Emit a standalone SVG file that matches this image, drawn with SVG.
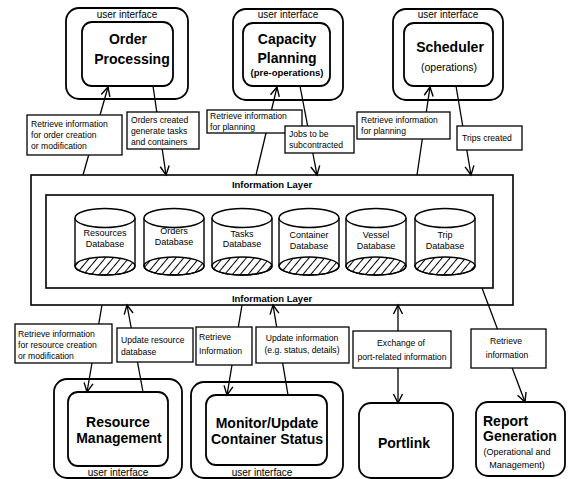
<svg xmlns="http://www.w3.org/2000/svg" width="569" height="479" viewBox="0 0 569 479">
<defs>
<style>
.ob{fill:#fff;stroke:#000;stroke-width:1.8}
.ib{fill:#fff;stroke:#000;stroke-width:1.8}
.lb{fill:#fff;stroke:#000;stroke-width:1.3}
.cn{stroke:#000;stroke-width:1.3;fill:none}
.t{font-family:"Liberation Sans",Arial,sans-serif;fill:#000}
.ti{font-size:14px;font-weight:bold;text-anchor:middle}
.ui{font-size:10px;text-anchor:middle}
.lt{font-size:8.6px}
.db{font-size:9px;text-anchor:middle}
.il{font-size:9.5px;font-weight:bold;text-anchor:middle}
.cy{fill:#fff;stroke:#000;stroke-width:1.4}
</style>
<pattern id="h" width="6" height="6" patternUnits="userSpaceOnUse" patternTransform="rotate(40)">
<line x1="0" y1="0" x2="0" y2="6" stroke="#000" stroke-width="2"/>
</pattern>
<marker id="a" viewBox="-10 -6 12 12" refX="0" refY="0" markerWidth="12" markerHeight="12" markerUnits="userSpaceOnUse" orient="auto-start-reverse">
<path d="M-9,-4.5 L0,0 L-9,4.5" fill="none" stroke="#000" stroke-width="1.4"/>
</marker>
</defs>
<rect width="569" height="479" fill="#fff"/>

<g id="order-processing">
<rect class="ob" x="66" y="8" width="122" height="91" rx="13"/>
<rect class="ib" x="82" y="22" width="91" height="64" rx="10"/>
<text class="t ui" x="127" y="18">user interface</text>
<text class="t ti" x="128" y="44">Order</text>
<text class="t ti" x="132" y="64">Processing</text>
</g>

<g id="capacity-planning">
<rect class="ob" x="233" y="9" width="110" height="91" rx="13"/>
<rect class="ib" x="243" y="23" width="87" height="63" rx="10"/>
<text class="t ui" x="288" y="18">user interface</text>
<text class="t ti" x="287" y="44">Capacity</text>
<text class="t ti" x="287" y="63">Planning</text>
<text class="t" x="287" y="76" style="font-size:9.5px;font-weight:bold;text-anchor:middle">(pre-operations)</text>
</g>

<g id="scheduler">
<rect class="ob" x="393" y="9" width="110" height="91" rx="13"/>
<rect class="ib" x="404" y="23" width="89" height="63" rx="10"/>
<text class="t ui" x="448" y="18">user interface</text>
<text class="t ti" x="450" y="52">Scheduler</text>
<text class="t" x="449" y="71" style="font-size:10.5px;text-anchor:middle">(operations)</text>
</g>

<g id="information-layer">
<rect x="31" y="175" width="482" height="130" fill="#fff" stroke="#000" stroke-width="1.6"/>
<rect x="46" y="195" width="447" height="93" fill="#fff" stroke="#000" stroke-width="1.6"/>
<text class="t il" x="272" y="188">Information Layer</text>
<text class="t il" x="272" y="302">Information Layer</text>
</g>

<g id="resources-db">
<path class="cy" d="M75,218 V266 A30,9 0 0 0 135,266 V218"/>
<ellipse cx="105" cy="266" rx="30" ry="9" fill="url(#h)" stroke="#000" stroke-width="1.4"/>
<ellipse class="cy" cx="105" cy="218" rx="30" ry="9.5"/>
<text class="t db" x="105" y="236">Resources</text>
<text class="t db" x="105" y="247">Database</text>
</g>
<g id="orders-db">
<path class="cy" d="M144,218 V266 A30,9 0 0 0 204,266 V218"/>
<ellipse cx="174" cy="266" rx="30" ry="9" fill="url(#h)" stroke="#000" stroke-width="1.4"/>
<ellipse class="cy" cx="174" cy="218" rx="30" ry="9.5"/>
<text class="t db" x="174" y="234">Orders</text>
<text class="t db" x="174" y="245">Database</text>
</g>
<g id="tasks-db">
<path class="cy" d="M212,218 V266 A30,9 0 0 0 272,266 V218"/>
<ellipse cx="242" cy="266" rx="30" ry="9" fill="url(#h)" stroke="#000" stroke-width="1.4"/>
<ellipse class="cy" cx="242" cy="218" rx="30" ry="9.5"/>
<text class="t db" x="242" y="237">Tasks</text>
<text class="t db" x="242" y="247">Database</text>
</g>
<g id="container-db">
<path class="cy" d="M279,218 V266 A30,9 0 0 0 339,266 V218"/>
<ellipse cx="309" cy="266" rx="30" ry="9" fill="url(#h)" stroke="#000" stroke-width="1.4"/>
<ellipse class="cy" cx="309" cy="218" rx="30" ry="9.5"/>
<text class="t db" x="309" y="238">Container</text>
<text class="t db" x="309" y="249">Database</text>
</g>
<g id="vessel-db">
<path class="cy" d="M346,218 V266 A30,9 0 0 0 406,266 V218"/>
<ellipse cx="376" cy="266" rx="30" ry="9" fill="url(#h)" stroke="#000" stroke-width="1.4"/>
<ellipse class="cy" cx="376" cy="218" rx="30" ry="9.5"/>
<text class="t db" x="376" y="238">Vessel</text>
<text class="t db" x="376" y="249">Database</text>
</g>
<g id="trip-db">
<path class="cy" d="M415,218 V266 A30,9 0 0 0 475,266 V218"/>
<ellipse cx="445" cy="266" rx="30" ry="9" fill="url(#h)" stroke="#000" stroke-width="1.4"/>
<ellipse class="cy" cx="445" cy="218" rx="30" ry="9.5"/>
<text class="t db" x="445" y="238">Trip</text>
<text class="t db" x="445" y="249">Database</text>
</g>

<g id="resource-management">
<rect class="ob" x="54" y="379" width="128" height="99" rx="13"/>
<rect class="ib" x="68" y="392" width="100" height="74" rx="10"/>
<text class="t ti" x="118" y="427">Resource</text>
<text class="t ti" x="119" y="443">Management</text>
<text class="t ui" x="118" y="476">user interface</text>
</g>

<g id="monitor-update">
<rect class="ob" x="191" y="382" width="152" height="96" rx="13"/>
<rect class="ib" x="206" y="395" width="121" height="70" rx="10"/>
<text class="t ti" x="267" y="428">Monitor/Update</text>
<text class="t ti" x="267" y="444">Container Status</text>
<text class="t ui" x="262" y="476">user interface</text>
</g>

<g id="portlink">
<rect class="ob" x="359" y="403" width="94" height="75" rx="12"/>
<text class="t ti" x="404" y="448">Portlink</text>
</g>

<g id="report-generation">
<rect class="ob" x="476" y="402" width="89" height="74" rx="12"/>
<text class="t" x="483" y="426" style="font-size:14px;font-weight:bold">Report</text>
<text class="t" x="483" y="441" style="font-size:14px;font-weight:bold">Generation</text>
<text class="t" x="517" y="455" style="font-size:9px;text-anchor:middle">(Operational and</text>
<text class="t" x="517" y="468" style="font-size:9px;text-anchor:middle">Management)</text>
</g>

<g id="connectors">
<line class="cn" x1="83" y1="175" x2="108" y2="87" marker-end="url(#a)"/>
<line class="cn" x1="153" y1="86" x2="166" y2="175" marker-end="url(#a)"/>
<line class="cn" x1="256" y1="175" x2="277" y2="87" marker-end="url(#a)"/>
<line class="cn" x1="300" y1="86" x2="317" y2="175" marker-end="url(#a)"/>
<line class="cn" x1="417" y1="175" x2="430" y2="87" marker-end="url(#a)"/>
<line class="cn" x1="456" y1="86" x2="471" y2="175" marker-end="url(#a)"/>
<line class="cn" x1="102" y1="305" x2="87" y2="392" marker-end="url(#a)"/>
<line class="cn" x1="143" y1="392" x2="127" y2="305" marker-end="url(#a)"/>
<line class="cn" x1="242" y1="305" x2="227" y2="395" marker-end="url(#a)"/>
<line class="cn" x1="288" y1="395" x2="273" y2="305" marker-end="url(#a)"/>
<line class="cn" x1="398" y1="305" x2="398" y2="403" marker-start="url(#a)" marker-end="url(#a)"/>
<line class="cn" x1="482" y1="288" x2="525" y2="402" marker-end="url(#a)"/>
</g>

<g id="connector-labels">
<rect class="lb" x="27" y="115" width="95" height="40"/>
<text class="t lt" x="31" y="127">Retrieve information</text>
<text class="t lt" x="31" y="138">for order creation</text>
<text class="t lt" x="31" y="149">or modification</text>

<rect class="lb" x="127" y="112" width="72" height="37"/>
<text class="t lt" x="131" y="123">Orders created</text>
<text class="t lt" x="131" y="134">generate tasks</text>
<text class="t lt" x="131" y="145">and containers</text>

<rect class="lb" x="207" y="110" width="95" height="23"/>
<text class="t lt" x="210" y="119">Retrieve information</text>
<text class="t lt" x="210" y="130">for planning</text>

<rect class="lb" x="285" y="126" width="69" height="27"/>
<text class="t lt" x="289" y="137">Jobs to be</text>
<text class="t lt" x="289" y="148">subcontracted</text>

<rect class="lb" x="357" y="112" width="93" height="27"/>
<text class="t lt" x="361" y="123">Retrieve information</text>
<text class="t lt" x="361" y="134">for planning</text>

<rect class="lb" x="457" y="126" width="65" height="24"/>
<text class="t lt" x="462" y="141">Trips created</text>

<rect class="lb" x="15" y="324" width="97" height="39"/>
<text class="t lt" x="18" y="337">Retrieve information</text>
<text class="t lt" x="18" y="348">for resource creation</text>
<text class="t lt" x="18" y="359">or modification</text>

<rect class="lb" x="117" y="328" width="76" height="34"/>
<text class="t lt" x="121" y="343">Update resource</text>
<text class="t lt" x="121" y="355">database</text>

<rect class="lb" x="196" y="327" width="56" height="38"/>
<text class="t lt" x="199" y="340">Retrieve</text>
<text class="t lt" x="199" y="354">Information</text>

<rect class="lb" x="256" y="327" width="93" height="36"/>
<text class="t lt" x="302" y="341" text-anchor="middle">Update information</text>
<text class="t lt" x="302" y="353" text-anchor="middle">(e.g. status, details)</text>

<rect class="lb" x="353" y="331" width="98" height="37"/>
<text class="t lt" x="401" y="346" text-anchor="middle">Exchange of</text>
<text class="t lt" x="402" y="360" text-anchor="middle">port-related information</text>

<rect class="lb" x="471" y="329" width="75" height="39"/>
<text class="t lt" x="506" y="344" text-anchor="middle">Retrieve</text>
<text class="t lt" x="507" y="358" text-anchor="middle">information</text>
</g>
</svg>
